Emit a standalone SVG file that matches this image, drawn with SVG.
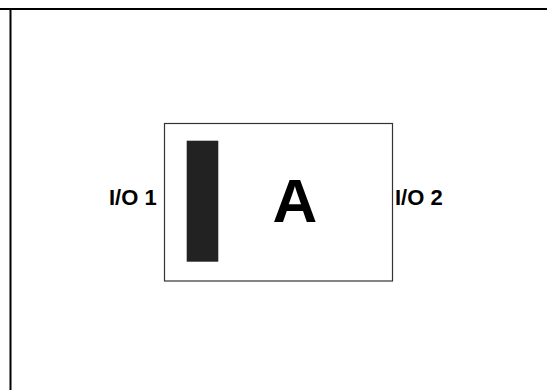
<svg xmlns="http://www.w3.org/2000/svg" width="547" height="390" viewBox="0 0 547 390">
<style>
.frame{stroke:#000;stroke-width:2;fill:none}
.lbl{font-family:"Liberation Sans",Arial,sans-serif;font-weight:bold;fill:#000}
</style>
<rect width="547" height="390" fill="#fff"/>
<g id="frame">
<line class="frame" x1="0" y1="9" x2="547" y2="9"/>
<line class="frame" x1="10.5" y1="9" x2="10.5" y2="390"/>
</g>
<g id="blockA">
<rect x="164.5" y="123.5" width="228" height="157.5" fill="#fff" stroke="#333" stroke-width="1.2"/>
<rect x="186.7" y="140.7" width="31.6" height="121" fill="#222"/>
<text class="lbl" x="295" y="222.3" font-size="62" text-anchor="middle">A</text>
</g>
<g id="io1">
<text class="lbl" x="109" y="205" font-size="22">I/O 1</text>
</g>
<g id="io2">
<text class="lbl" x="395" y="205" font-size="22">I/O 2</text>
</g>
<g id="connectors"></g>
</svg>
